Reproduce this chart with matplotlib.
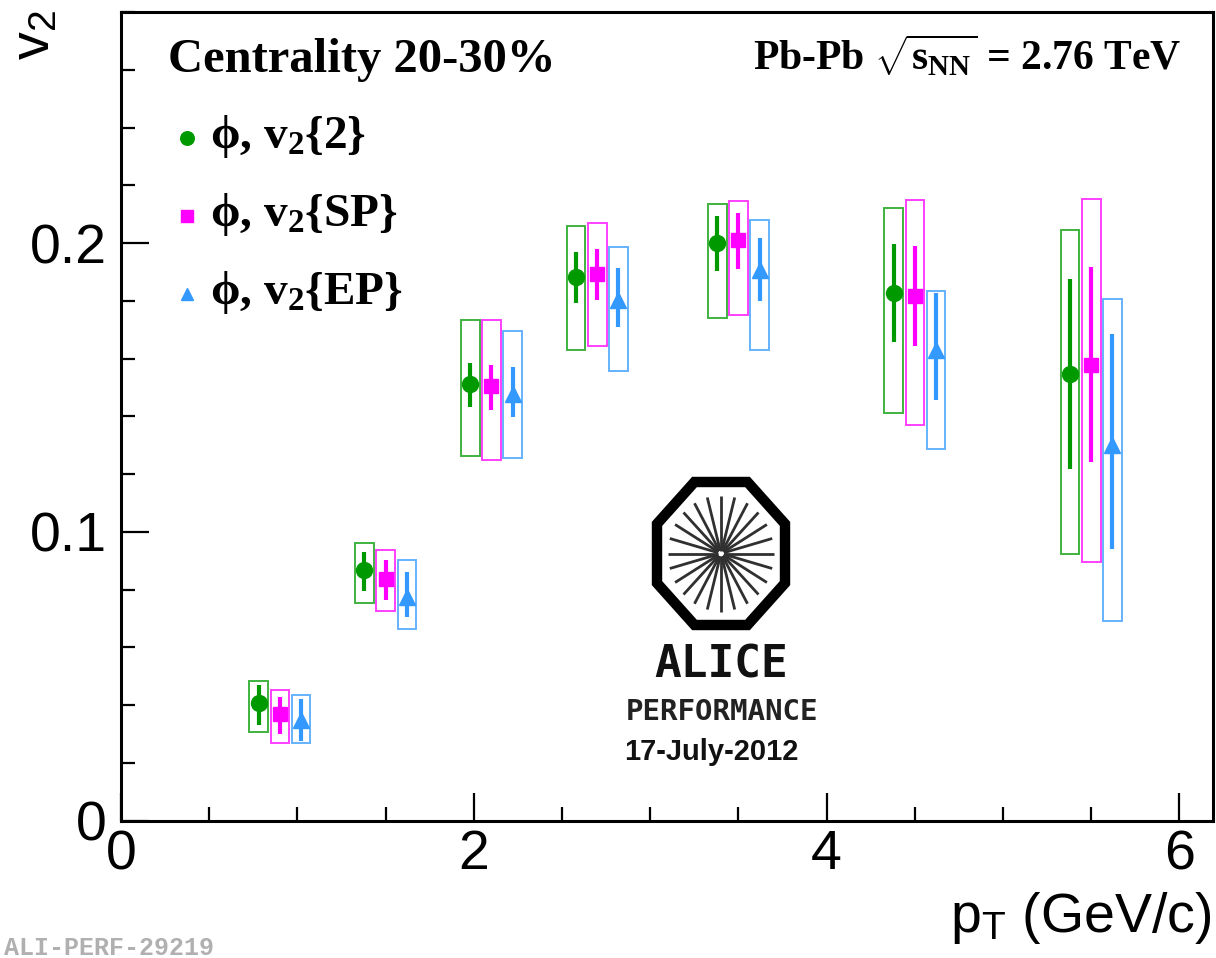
import numpy as np
import matplotlib
matplotlib.use("Agg")
import matplotlib.pyplot as plt
from matplotlib.patches import Rectangle, Polygon
from matplotlib.ticker import FixedLocator, FixedFormatter, MultipleLocator

# ---------------- data ----------------
pt_v2_2 = [0.78, 1.38, 1.98, 2.58, 3.38, 4.38, 5.38]
pt_v2_SP = [0.90, 1.50, 2.10, 2.70, 3.50, 4.50, 5.50]
pt_v2_EP = [1.02, 1.62, 2.22, 2.82, 3.62, 4.62, 5.62]

v2_2 = [0.0407, 0.0869, 0.1511, 0.1881, 0.1999, 0.1826, 0.1548]
v2_2_stat_lo = [0.0333, 0.0795, 0.1433, 0.1793, 0.1902, 0.1658, 0.1219]
v2_2_stat_hi = [0.0471, 0.0929, 0.1583, 0.1970, 0.2094, 0.1997, 0.1874]
v2_2_sys_lo = [0.0308, 0.0755, 0.1262, 0.1629, 0.1742, 0.1410, 0.0924]
v2_2_sys_hi = [0.0485, 0.0961, 0.1735, 0.2059, 0.2135, 0.2120, 0.2045]

v2_SP = [0.0370, 0.0837, 0.1505, 0.1893, 0.2010, 0.1816, 0.1577]
v2_SP_stat_lo = [0.0301, 0.0765, 0.1421, 0.1802, 0.1909, 0.1643, 0.1242]
v2_SP_stat_hi = [0.0430, 0.0901, 0.1578, 0.1981, 0.2105, 0.1990, 0.1916]
v2_SP_sys_lo = [0.0268, 0.0726, 0.1250, 0.1643, 0.1750, 0.1369, 0.0895]
v2_SP_sys_hi = [0.0451, 0.0936, 0.1735, 0.2070, 0.2144, 0.2149, 0.2151]

v2_EP = [0.0349, 0.0774, 0.1479, 0.1802, 0.1906, 0.1629, 0.1300]
v2_EP_stat_lo = [0.0277, 0.0707, 0.1398, 0.1710, 0.1800, 0.1456, 0.0942]
v2_EP_stat_hi = [0.0420, 0.0860, 0.1571, 0.1912, 0.2016, 0.1826, 0.1685]
v2_EP_sys_lo = [0.0268, 0.0663, 0.1256, 0.1557, 0.1629, 0.1288, 0.0693]
v2_EP_sys_hi = [0.0434, 0.0904, 0.1696, 0.1985, 0.2080, 0.1835, 0.1807]

series_labels = [r"$\phi$, v$_{2}${2}", r"$\phi$, v$_{2}${SP}", r"$\phi$, v$_{2}${EP}"]
y_ticks = [0.0, 0.1, 0.2]
y_tick_labels = ["0", "0.1", "0.2"]
x_ticks = [0, 2, 4, 6]
x_tick_labels = ["0", "2", "4", "6"]

# ---------------- style ----------------
plt.rcParams["font.family"] = ["Liberation Sans", "DejaVu Sans"]
plt.rcParams["mathtext.fontset"] = "custom"
plt.rcParams["mathtext.rm"] = "Liberation Serif:bold"
plt.rcParams["mathtext.it"] = "Liberation Serif:bold"
plt.rcParams["mathtext.bf"] = "Liberation Serif:bold"
plt.rcParams["mathtext.sf"] = "Liberation Sans"

W, H, DPI = 1216, 958, 100
fig = plt.figure(figsize=(W / DPI, H / DPI), dpi=DPI)
fig.patch.set_facecolor("white")

ax = fig.add_axes([121 / W, (H - 820.7) / H, (1213 - 121) / W, (820.7 - 12) / H])
ax.set_xlim(0, 6.19)
ax.set_ylim(0, 0.28)

GREEN, MAGENTA, BLUE = "#009a00", "#ff00ff", "#3399ff"
box_w = 0.105

series = [
    (pt_v2_2, v2_2, v2_2_stat_lo, v2_2_stat_hi, v2_2_sys_lo, v2_2_sys_hi, GREEN, "o", 11.5),
    (pt_v2_SP, v2_SP, v2_SP_stat_lo, v2_SP_stat_hi, v2_SP_sys_lo, v2_SP_sys_hi, MAGENTA, "s", 10),
    (pt_v2_EP, v2_EP, v2_EP_stat_lo, v2_EP_stat_hi, v2_EP_sys_lo, v2_EP_sys_hi, BLUE, "^", 11),
]

for x, v, slo, shi, ylo, yhi, col, mk, ms in series:
    x = np.asarray(x); v = np.asarray(v)
    for xi, lo, hi in zip(x, ylo, yhi):
        ax.add_patch(Rectangle((xi - box_w / 2, lo), box_w, hi - lo, fill=False,
                               edgecolor=col, lw=1.4, alpha=0.75, zorder=2))
    ax.errorbar(x, v, yerr=[v - np.asarray(slo), np.asarray(shi) - v], fmt=mk,
                color=col, ms=ms, mec=col, elinewidth=3, capsize=0, zorder=3)

ax.xaxis.set_major_locator(FixedLocator(x_ticks))
ax.xaxis.set_major_formatter(FixedFormatter(x_tick_labels))
ax.xaxis.set_minor_locator(MultipleLocator(0.5))
ax.yaxis.set_major_locator(FixedLocator(y_ticks))
ax.yaxis.set_major_formatter(FixedFormatter(y_tick_labels))
ax.yaxis.set_minor_locator(MultipleLocator(0.02))

ax.tick_params(which="both", direction="in", top=False, right=False, width=1.6, color="black")
ax.tick_params(which="major", length=20, labelsize=40)
ax.tick_params(which="minor", length=10)
ax.tick_params(axis="y", which="major", pad=10)
ax.tick_params(axis="x", which="major", pad=6)
for s in ax.spines.values():
    s.set_linewidth(2.2)

# ---------------- overlay in pixel coordinates ----------------
ov = fig.add_axes([0, 0, 1, 1], zorder=5)
ov.set_xlim(0, W)
ov.set_ylim(H, 0)
ov.axis("off")
ov.patch.set_alpha(0)

ov.text(35, 10, r"v$_{\mathsf{2}}$", rotation=90, ha="center", va="top", fontsize=40)
ov.text(1211, 932, r"p$_{\mathsf{T}}$ (GeV/c)", ha="right", va="baseline", fontsize=40)

serif_b = dict(family="Liberation Serif", weight="bold")
ov.text(168, 72, "Centrality 20-30%", ha="left", va="baseline", fontsize=35, **serif_b)
ov.text(1181, 70, r"Pb-Pb $\sqrt{s_{\mathrm{NN}}}$ = 2.76 TeV", ha="right", va="baseline",
        fontsize=30, **serif_b)

leg_y = [148, 226, 304]
for (x, v, slo, shi, ylo, yhi, col, mk, ms), lab, yb in zip(series, series_labels, leg_y):
    ov.plot([187], [yb - 10], marker=mk, color=col, ms=ms * 0.85, ls="none")
    ov.text(210, yb, lab, ha="left", va="baseline", fontsize=34, **serif_b)

# ALICE logo
cx, cy, rx, ry = 721, 553.5, 64, 71.5
ang = np.deg2rad(22.5 + 45 * np.arange(8))
k = 1 / np.cos(np.deg2rad(22.5))
oct_pts = np.column_stack([cx + rx * k * np.cos(ang), cy + ry * k * np.sin(ang)])
ov.add_patch(Polygon(oct_pts, closed=True, fill=False, edgecolor="black", lw=7.5, joinstyle="miter"))
for a in np.deg2rad(np.arange(0, 360, 15)):
    ov.plot([cx + 3 * np.cos(a), cx + 53 * np.cos(a)], [cy + 3 * np.sin(a), cy + 58 * np.sin(a)],
            color="#303030", lw=2.0, solid_capstyle="butt")
ov.text(721, 677, "ALICE", ha="center", va="baseline", fontsize=32, family="DejaVu Sans Mono",
        weight="bold", color="#111111")
ov.text(721.5, 720, "PERFORMANCE", ha="center", va="baseline", fontsize=21, family="DejaVu Sans Mono",
        weight="bold", color="#222222")
ov.text(711, 760, "17-July-2012", ha="center", va="baseline", fontsize=21, weight="bold",
        family="Liberation Sans", color="#111111")

ov.text(4, 955, "ALI-PERF-29219", ha="left", va="baseline", fontsize=18, family="Liberation Mono",
        color="#b0b0b0", weight="bold")

fig.savefig("out.png", dpi=DPI, facecolor="white")
